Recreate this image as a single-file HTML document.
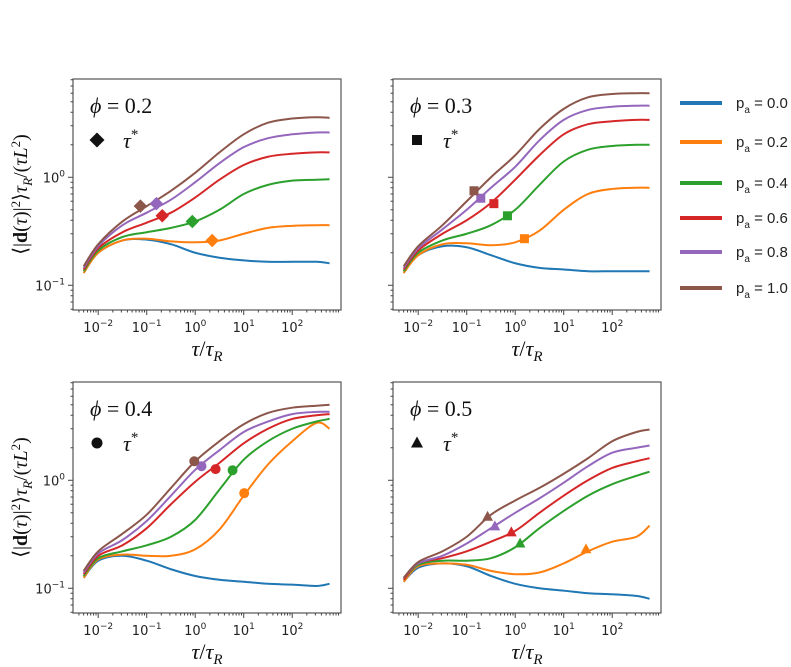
<!DOCTYPE html>
<html><head><meta charset="utf-8"><style>
html,body{margin:0;padding:0;background:#fff;}
svg{display:block;}
.tick{font-family:"DejaVu Sans","Liberation Sans",sans-serif;font-size:13px;fill:#222;}
.math{font-family:"Liberation Serif","DejaVu Serif",serif;fill:#111;}
.leg{font-family:"Liberation Sans","DejaVu Sans",sans-serif;font-size:15px;fill:#222;}
</style></head><body>
<svg id="fig" width="791" height="667" viewBox="0 0 791 667" xmlns="http://www.w3.org/2000/svg"></svg>
<script>
const logTau = [-2.3,-2,-1.5,-1,-0.5,0,0.5,1,1.5,2,2.5,2.77];
const seriesLabels = ["0.0","0.2","0.4","0.6","0.8","1.0"];
const colors = ["#1f77b4","#ff7f0e","#2ca02c","#d62728","#9467bd","#8c564b"];
const phiLabels = ["0.2","0.3","0.4","0.5"];
// panel phi=0.2
const p02 = [
 [0.13,0.2,0.26,0.265,0.24,0.2,0.18,0.17,0.165,0.165,0.165,0.16],
 [0.13,0.2,0.26,0.27,0.255,0.25,0.26,0.3,0.34,0.355,0.36,0.36],
 [0.135,0.21,0.28,0.31,0.34,0.39,0.5,0.7,0.85,0.93,0.95,0.96],
 [0.14,0.22,0.31,0.38,0.47,0.65,0.95,1.3,1.55,1.65,1.7,1.7],
 [0.145,0.23,0.36,0.47,0.62,0.9,1.35,1.9,2.3,2.5,2.6,2.6],
 [0.15,0.24,0.39,0.54,0.75,1.1,1.7,2.5,3.2,3.5,3.6,3.55]];
const m02x = [null,0.35,-0.06,-0.68,-0.8,-1.13];
const m02y = [null,0.26,0.39,0.44,0.57,0.54];
// panel phi=0.3
const p03 = [
 [0.13,0.19,0.23,0.225,0.19,0.16,0.145,0.14,0.135,0.135,0.135,0.135],
 [0.13,0.19,0.24,0.245,0.235,0.25,0.32,0.5,0.7,0.78,0.8,0.8],
 [0.135,0.2,0.26,0.3,0.36,0.5,0.85,1.4,1.8,1.95,2.0,2.0],
 [0.14,0.21,0.3,0.4,0.58,0.95,1.6,2.5,3.1,3.3,3.4,3.4],
 [0.145,0.22,0.33,0.5,0.8,1.25,2.2,3.4,4.2,4.5,4.6,4.6],
 [0.15,0.23,0.36,0.6,1.0,1.6,2.8,4.3,5.5,5.9,6.0,6.0]];
const m03x = [null,0.19,-0.16,-0.44,-0.71,-0.85];
const m03y = [null,0.27,0.44,0.57,0.64,0.75];
// panel phi=0.4
const p04 = [
 [0.125,0.18,0.2,0.18,0.15,0.13,0.12,0.115,0.11,0.108,0.105,0.11],
 [0.125,0.185,0.205,0.2,0.2,0.23,0.35,0.72,1.4,2.3,3.4,3.0],
 [0.13,0.19,0.22,0.25,0.3,0.43,0.82,1.55,2.3,3.0,3.5,3.7],
 [0.135,0.2,0.25,0.36,0.6,0.97,1.45,2.2,3.0,3.7,4.0,4.1],
 [0.14,0.21,0.28,0.42,0.72,1.25,1.9,2.8,3.5,4.1,4.3,4.3],
 [0.145,0.22,0.32,0.48,0.85,1.5,2.3,3.3,4.2,4.7,4.9,5.0]];
const m04x = [null,1.01,0.77,0.42,0.13,-0.02];
const m04y = [null,0.76,1.24,1.27,1.35,1.5];
// panel phi=0.5
const p05 = [
 [0.115,0.155,0.17,0.16,0.13,0.11,0.1,0.095,0.09,0.088,0.085,0.08],
 [0.115,0.16,0.17,0.165,0.145,0.135,0.14,0.17,0.22,0.27,0.3,0.38],
 [0.12,0.165,0.18,0.18,0.19,0.24,0.36,0.52,0.72,0.92,1.1,1.2],
 [0.12,0.17,0.19,0.22,0.27,0.34,0.5,0.72,1.0,1.3,1.5,1.6],
 [0.125,0.17,0.2,0.26,0.36,0.5,0.68,0.95,1.35,1.8,2.0,2.1],
 [0.125,0.175,0.22,0.3,0.48,0.65,0.85,1.15,1.6,2.3,2.8,2.95]];
const m05x = [null,1.46,0.1,-0.08,-0.42,-0.57];
const m05y = [null,0.23,0.26,0.33,0.375,0.46];

const NS="http://www.w3.org/2000/svg";
const svg=document.getElementById('fig');
function mk(tag,attrs,parent){const e=document.createElementNS(NS,tag);for(const k in attrs)e.setAttribute(k,attrs[k]);(parent||svg).appendChild(e);return e;}
const W=268,H=231,XMIN=-2.52,XMAX=2.98,YMAX=0.91,DX=48.5,DY=108;
const panels=[
 {x0:73,y0:79,data:p02,mx:m02x,my:m02y,marker:"diamond",ylab:true,name:"panel-phi-0-2"},
 {x0:393,y0:79,data:p03,mx:m03x,my:m03y,marker:"square",ylab:false,name:"panel-phi-0-3"},
 {x0:73,y0:382,data:p04,mx:m04x,my:m04y,marker:"circle",ylab:true,name:"panel-phi-0-4"},
 {x0:393,y0:382,data:p05,mx:m05x,my:m05y,marker:"triangle",ylab:false,name:"panel-phi-0-5"}];

function drawMarker(g,type,cx,cy,color,s){
 let e;
 if(type==="diamond") e=mk('polygon',{points:`${cx},${cy-s*0.75} ${cx+s*0.75},${cy} ${cx},${cy+s*0.75} ${cx-s*0.75},${cy}`,fill:color},g);
 else if(type==="square") e=mk('rect',{x:cx-s/2,y:cy-s/2,width:s,height:s,fill:color},g);
 else if(type==="circle") e=mk('circle',{cx:cx,cy:cy,r:s/2+0.5,fill:color},g);
 else e=mk('polygon',{points:`${cx},${cy-s*0.65} ${cx+s*0.6},${cy+s*0.45} ${cx-s*0.6},${cy+s*0.45}`,fill:color},g);
 return e;
}
function catmull(pts){
 let d=`M${pts[0][0]},${pts[0][1]}`;
 for(let i=0;i<pts.length-1;i++){
  const p0=pts[Math.max(i-1,0)],p1=pts[i],p2=pts[i+1],p3=pts[Math.min(i+2,pts.length-1)];
  const c1=[p1[0]+(p2[0]-p0[0])/6,p1[1]+(p2[1]-p0[1])/6];
  const c2=[p2[0]-(p3[0]-p1[0])/6,p2[1]-(p3[1]-p1[1])/6];
  d+=` C${c1[0].toFixed(2)},${c1[1].toFixed(2)} ${c2[0].toFixed(2)},${c2[1].toFixed(2)} ${p2[0].toFixed(2)},${p2[1].toFixed(2)}`;
 }
 return d;
}
panels.forEach((p,pi)=>{
 const g=mk('g',{});
 
 
 const sx=lx=>p.x0+(lx-XMIN)*DX;
 const sy=v=>p.y0+(YMAX-Math.log10(v))*DY;
 const cid='clip'+pi;
 const cp=mk('clipPath',{id:cid},g);mk('rect',{x:p.x0,y:p.y0,width:W,height:H},cp);
 p.data.forEach((vals,si)=>{
  const pts=logTau.map((lx,i)=>[sx(lx),sy(vals[i])]);
  const path=mk('path',{d:catmull(pts),fill:'none',stroke:colors[si],'stroke-width':2,'clip-path':`url(#${cid})`},g);
  
  
 });
 p.data.forEach((vals,si)=>{
  if(p.mx[si]===null) return;
  const m=drawMarker(g,p.marker,sx(p.mx[si]),sy(p.my[si]),colors[si],9);
  
  
 });
 const fr=mk('rect',{x:p.x0,y:p.y0,width:W,height:H,fill:'none',stroke:'#555','stroke-width':1.2},g);
 
 
 for(let d=-3;d<=3;d++){
  for(let k=1;k<10;k++){
   const lx=d+Math.log10(k);
   if(lx<XMIN||lx>XMAX) continue;
   const x=sx(lx),len=k===1?5:2.5;
   mk('line',{x1:x,x2:x,y1:p.y0+H,y2:p.y0+H+len,stroke:'#444','stroke-width':1},g);
   if(k===1){
    const t=mk('text',{x:x,y:p.y0+H+22,'text-anchor':'middle',class:'tick'},g);
    
    
    t.innerHTML=`10<tspan dy="-6" font-size="9">${d<0?'\u2212'+(-d):d}</tspan>`;
   }
  }
 }
 for(let d=-2;d<=1;d++){
  for(let k=1;k<10;k++){
   const ly=d+Math.log10(k);
   if(ly>YMAX||ly<YMAX-H/DY) continue;
   const y=sy(Math.pow(10,ly)),len=k===1?5:2.5;
   mk('line',{x1:p.x0,x2:p.x0-len,y1:y,y2:y,stroke:'#444','stroke-width':1},g);
   if(k===1&&p.ylab){
    const t=mk('text',{x:p.x0-8,y:y+5,'text-anchor':'end',class:'tick'},g);
    
    
    t.innerHTML=`10<tspan dy="-6" font-size="9">${d<0?'\u2212'+(-d):d}</tspan>`;
   }
  }
 }
 const ti=mk('text',{x:p.x0+17,y:p.y0+34,class:'math','font-size':22},g);
 
 
 ti.innerHTML=`<tspan font-style="italic">ϕ</tspan> = ${phiLabels[pi]}`;
 const km=drawMarker(g,p.marker,p.x0+24,p.y0+61,'#111',10);
 
 
 const kt=mk('text',{x:p.x0+50,y:p.y0+69,class:'math','font-size':22},g);
 
 
 kt.innerHTML=`<tspan font-style="italic">τ</tspan><tspan dy="-9" font-size="15">*</tspan>`;
 const xt=mk('text',{x:p.x0+W/2,y:p.y0+H+46,'text-anchor':'middle',class:'math','font-size':22},g);
 
 
 xt.innerHTML=`<tspan font-style="italic">τ</tspan>/<tspan font-style="italic">τ</tspan><tspan dy="5" font-size="15" font-style="italic">R</tspan>`;
 if(p.ylab){
  const cy=p.y0+H/2;
  const yt=mk('text',{x:0,y:0,transform:`translate(27,${cy}) rotate(-90)`,'text-anchor':'middle',class:'math','font-size':20},g);
  
  
  yt.innerHTML=`⟨|<tspan font-weight="bold">d</tspan>(<tspan font-style="italic">τ</tspan>)|<tspan dy="-7" font-size="13">2</tspan><tspan dy="7">⟩</tspan><tspan font-style="italic">τ</tspan><tspan dy="5" font-size="13" font-style="italic">R</tspan><tspan dy="-5">/(</tspan><tspan font-style="italic">τL</tspan><tspan dy="-7" font-size="13">2</tspan><tspan dy="7">)</tspan>`;
 }
});
const legY=[103,142,183,218,252,288];
const lg=mk('g',{});


seriesLabels.forEach((lab,i)=>{
 const e=mk('g',{},lg);
 
 
 mk('line',{x1:680,x2:722,y1:legY[i],y2:legY[i],stroke:colors[i],'stroke-width':4},e);
 const t=mk('text',{x:736,y:legY[i]+5,class:'leg'},e);
 t.innerHTML=`p<tspan dy="5" font-size="10">a</tspan><tspan dy="-5"> = ${lab}</tspan>`;
});
</script>
</body></html>
